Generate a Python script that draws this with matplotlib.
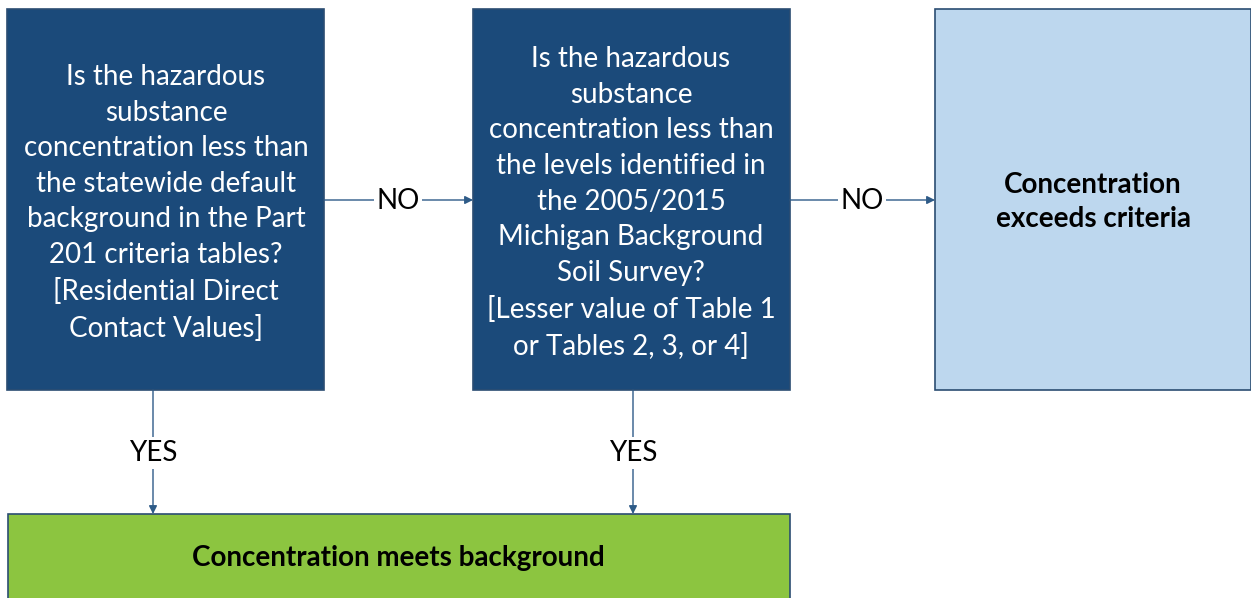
import matplotlib.pyplot as plt
from matplotlib.patches import Rectangle

# texts of the flowchart
q1_text = ["Is the hazardous", "substance", "concentration less than",
           "the statewide default", "background in the Part",
           "201 criteria tables?", "[Residential Direct", "Contact Values]"]
q2_text = ["Is the hazardous", "substance", "concentration less than",
           "the levels identified in", "the 2005/2015",
           "Michigan Background", "Soil Survey?", "[Lesser value of Table 1",
           "or Tables 2, 3, or 4]"]
exceed_text = ["Concentration", "exceeds criteria"]
meets_text = ["Concentration meets background"]
edge_labels = ["NO", "NO", "YES", "YES"]

W, H = 1251, 598
fig = plt.figure(figsize=(W / 100, H / 100), dpi=100)
ax = fig.add_axes([0, 0, 1, 1])
ax.set_xlim(0, W)
ax.set_ylim(H, 0)
ax.axis('off')

dark = '#1B4A7A'
edge = '#2B4D72'
light = '#BDD7EE'
green = '#8CC540'
line_c = '#2E5B88'
font = 'Lato'
fs = 20

# boxes: x0, y0, x1, y1 (pixels)
boxes = [(7, 9, 324, 390, dark), (473, 9, 790, 390, dark),
         (935, 9, 1251, 390, light), (8, 514, 790, 620, green)]
for x0, y0, x1, y1, fc in boxes:
    ax.add_patch(Rectangle((x0, y0), x1 - x0, y1 - y0, facecolor=fc,
                           edgecolor=edge, linewidth=1.2))

ax.text(166, 203, "\n".join(q1_text), color='white', ha='center', va='center',
        fontsize=fs, family=font, linespacing=1.455)
ax.text(631, 203, "\n".join(q2_text), color='white', ha='center', va='center',
        fontsize=fs, family=font, linespacing=1.455)
ax.text(1093, 202, "\n".join(exceed_text), color='black', ha='center', va='center',
        fontsize=fs, family=font, fontweight='bold', linespacing=1.42)
ax.text(398, 558, meets_text[0], color='black', ha='center', va='center',
        fontsize=fs, family=font, fontweight='bold')

# connectors: start, end, label position
arrows = [((324, 200), (473, 200), (398, 201)),
          ((790, 200), (935, 200), (862, 201)),
          ((153, 390), (153, 514), (153, 453)),
          ((633, 390), (633, 514), (633, 453))]
for (s, e, lp), lab in zip(arrows, edge_labels):
    ax.annotate("", xy=e, xytext=s,
                arrowprops=dict(arrowstyle='-|>', color=line_c, lw=1,
                                mutation_scale=12, shrinkA=0, shrinkB=0))
    ax.text(lp[0], lp[1], lab, ha='center', va='center', fontsize=fs,
            family=font, color='black',
            bbox=dict(facecolor='white', edgecolor='none', pad=2))

fig.savefig('out.png', dpi=100)
